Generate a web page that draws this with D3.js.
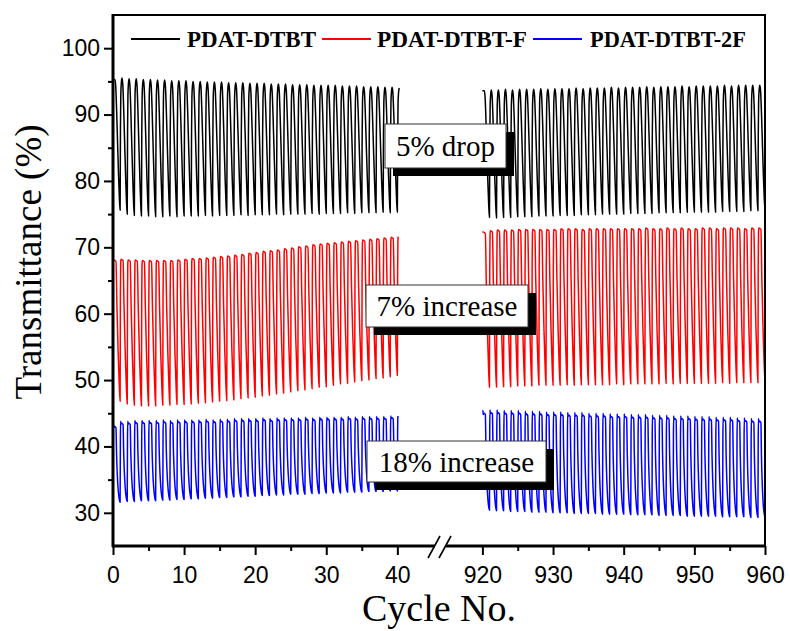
<!DOCTYPE html>
<html>
<head>
<meta charset="utf-8">
<script src="https://cdn.jsdelivr.net/npm/d3@7/dist/d3.min.js"></script>
<style>
  html, body { margin: 0; padding: 0; background: #fff; }
  svg { display: block; }
</style>
</head>
<body>
<svg id="chart" width="790" height="631"></svg>
<script>
// ---- Series and axis data -------------------------------------------------
const seriesNames  = ["PDAT-DTBT", "PDAT-DTBT-F", "PDAT-DTBT-2F"];
const seriesColors = ["#000000", "#ff0000", "#0000ff"];

// cycle ranges shown on each side of the axis break
const leftStart  = 0;    // cycles 0..40
const rightStart = 920;  // cycles 920..960

const xTicksLeft  = [0, 10, 20, 30, 40];
const xTicksRight = [920, 930, 940, 950, 960];
const xMinorLeft  = [5, 15, 25, 35];
const xMinorRight = [925, 935, 945, 955];
const yTicks      = [30, 40, 50, 60, 70, 80, 90, 100];
const yMinor      = [35, 45, 55, 65, 75, 85, 95];

// bleached (peak) and coloured (trough) transmittance of each cycle, %
const blackPeaksLeft = [95.3,95.5,95.4,95.4,95.3,95.3,95.2,95.2,95.1,95.1,
  95.1,95.0,95.0,94.9,94.9,94.9,94.8,94.8,94.8,94.7,
  94.7,94.7,94.6,94.6,94.6,94.5,94.5,94.5,94.4,94.4,
  94.4,94.4,94.3,94.3,94.3,94.2,94.2,94.2,94.1,94.1, 94.0];
const blackTroughsLeft = [75.6,75.0,74.8,74.7,74.7,74.6,74.6,74.7,74.6,74.7,
  74.7,74.7,74.8,74.7,74.8,74.8,74.8,74.9,74.8,74.9,
  74.9,74.9,75.0,74.9,75.0,75.0,75.0,75.1,75.0,75.1,
  75.1,75.1,75.2,75.1,75.2,75.2,75.2,75.3,75.2,75.3];
const blackPeaksRight = [93.6,93.7,93.7,93.8,93.7,93.8,93.8,93.8,93.9,93.8,
  93.9,93.9,93.9,94.0,93.9,94.0,94.0,94.0,94.1,94.0,
  94.1,94.1,94.1,94.2,94.1,94.2,94.2,94.2,94.3,94.2,
  94.3,94.3,94.3,94.3,94.4,94.3,94.4,94.4,94.4,94.4];
const blackTroughsRight = [74.5,74.4,74.5,74.5,74.6,74.6,74.6,74.7,74.7,74.7,
  74.8,74.8,74.8,74.9,74.9,74.9,75.0,75.0,75.0,75.0,
  75.1,75.1,75.1,75.1,75.2,75.2,75.2,75.2,75.3,75.3,
  75.3,75.3,75.3,75.4,75.4,75.4,75.4,75.5,75.5,75.6];

const redPeaksLeft = [68.1,68.2,68.1,68.1,68.0,68.0,68.0,68.0,68.0,68.1,
  68.2,68.3,68.3,68.4,68.5,68.6,68.7,68.8,68.9,69.1,
  69.2,69.4,69.5,69.6,69.8,69.9,70.1,70.2,70.4,70.5,
  70.6,70.7,70.8,70.9,71.0,71.1,71.2,71.3,71.4,71.5, 71.6];
const redTroughsLeft = [46.8,46.4,46.2,46.1,46.1,46.1,46.2,46.2,46.3,46.3,
  46.4,46.5,46.6,46.7,46.8,46.9,47.0,47.2,47.3,47.4,
  47.6,47.7,47.9,48.0,48.2,48.4,48.5,48.7,48.9,49.0,
  49.2,49.4,49.5,49.7,49.9,50.0,50.2,50.3,50.5,50.7];
const redPeaksRight = [72.3,72.5,72.6,72.6,72.6,72.7,72.7,72.7,72.7,72.7,
  72.7,72.8,72.8,72.8,72.7,72.8,72.8,72.8,72.8,72.8,
  72.8,72.8,72.8,72.9,72.8,72.8,72.9,72.8,72.9,72.8,
  72.8,72.9,72.9,72.8,72.9,72.9,72.9,72.8,72.9,72.9];
const redTroughsRight = [48.9,48.9,49.0,49.0,49.1,49.1,49.1,49.2,49.2,49.2,
  49.2,49.3,49.2,49.3,49.3,49.3,49.3,49.3,49.4,49.3,
  49.4,49.4,49.4,49.4,49.4,49.5,49.4,49.5,49.5,49.5,
  49.5,49.5,49.5,49.6,49.5,49.6,49.6,49.6,49.6,49.6];

const bluePeaksLeft = [43.3,43.8,43.8,43.9,43.9,43.9,43.9,44.0,43.9,44.0,
  44.0,44.0,44.0,44.1,44.0,44.1,44.1,44.2,44.2,44.2,
  44.2,44.3,44.2,44.3,44.3,44.3,44.3,44.4,44.3,44.4,
  44.4,44.4,44.4,44.5,44.4,44.5,44.5,44.5,44.5,44.6, 44.6];
const blueTroughsLeft = [31.6,31.7,31.7,31.8,31.8,31.8,31.9,31.9,32.0,32.0,
  32.1,32.1,32.2,32.2,32.3,32.3,32.4,32.4,32.5,32.5,
  32.6,32.6,32.7,32.7,32.8,32.8,32.8,32.9,32.9,33.0,
  33.0,33.0,33.1,33.1,33.1,33.2,33.2,33.2,33.3,33.3];
const bluePeaksRight = [45.4,45.5,45.5,45.4,45.4,45.4,45.3,45.3,45.3,45.2,
  45.2,45.2,45.1,45.1,45.1,45.0,45.0,45.0,44.9,44.9,
  44.9,44.8,44.8,44.8,44.7,44.7,44.7,44.6,44.6,44.6,
  44.5,44.5,44.5,44.4,44.4,44.4,44.3,44.3,44.2,44.2];
const blueTroughsRight = [30.4,30.3,30.3,30.2,30.2,30.2,30.1,30.1,30.1,30.0,
  30.0,30.0,29.9,29.9,29.9,29.9,29.8,29.8,29.8,29.8,
  29.7,29.7,29.7,29.7,29.6,29.6,29.6,29.6,29.5,29.5,
  29.5,29.5,29.5,29.4,29.4,29.4,29.4,29.3,29.3,29.3];

// switching shape inside one cycle: [phase, fraction of the swing]
// (first point with fraction 1 is the bleached peak)
const blackProfile = [[0,0],[0.05,0.62],[0.10,0.88],[0.18,0.97],[0.27,1.0],[0.38,0.95],
  [0.50,0.78],[0.64,0.52],[0.78,0.27],[0.90,0.09],[1.0,0]];
const redProfile = [[0,0],[0.04,0.75],[0.08,0.97],[0.12,1.0],[0.42,0.99],[0.55,0.68],
  [0.72,0.35],[0.88,0.12],[1.0,0]];
const blueProfile = [[0,0],[0.04,0.8],[0.08,1.0],[0.12,0.96],[0.2,0.975],[0.42,0.96],
  [0.5,0.62],[0.6,0.36],[0.72,0.17],[0.86,0.05],[1.0,0]];

const annotations = [
  { text: "5% drop",      x: 385, y: 124, w: 121, h: 44 },
  { text: "7% increase",  x: 366, y: 285, w: 162, h: 42 },
  { text: "18% increase", x: 367, y: 441, w: 179, h: 41 }
];

// ---- Layout ---------------------------------------------------------------
const plot = { left: 113, right: 765, top: 15, bottom: 546 };
const breakX = 440;

const xLeft  = d3.scaleLinear().domain([0, 46]).range([plot.left, breakX]);
const xRight = d3.scaleLinear().domain([914, 960]).range([breakX, plot.right]);
const y      = d3.scaleLinear().domain([25, 105]).range([plot.bottom, plot.top]);

const svg = d3.select("#chart");

// build the cycle-by-cycle trace of one segment
function buildTrace(start, peaks, troughs, profile) {
  const pts = [];
  const peakIdx = profile.findIndex(p => p[1] === 1);
  for (let k = 0; k < troughs.length; k++) {
    const P = peaks[k];
    const Tprev = k === 0 ? P : troughs[k - 1];
    const T = troughs[k];
    profile.forEach(([ph, f], i) => {
      if (k > 0 && i === 0) return; // shared with previous cycle end
      const base = i <= peakIdx ? Tprev : T;
      pts.push([start + k + ph, base + f * (P - base)]);
    });
  }
  // final rise when one more bleached peak is recorded
  if (peaks.length > troughs.length) {
    const P = peaks[troughs.length];
    const Tprev = troughs[troughs.length - 1];
    profile.slice(1, peakIdx + 1).forEach(([ph, f]) => {
      pts.push([start + troughs.length + ph, Tprev + f * (P - Tprev)]);
    });
  }
  return pts;
}

const seriesData = [
  { left: buildTrace(leftStart, blackPeaksLeft, blackTroughsLeft, blackProfile),
    right: buildTrace(rightStart, blackPeaksRight, blackTroughsRight, blackProfile) },
  { left: buildTrace(leftStart, redPeaksLeft, redTroughsLeft, redProfile),
    right: buildTrace(rightStart, redPeaksRight, redTroughsRight, redProfile) },
  { left: buildTrace(leftStart, bluePeaksLeft, blueTroughsLeft, blueProfile),
    right: buildTrace(rightStart, bluePeaksRight, blueTroughsRight, blueProfile) }
];

const lineL = d3.line().x(d => xLeft(d[0])).y(d => y(d[1])).curve(d3.curveMonotoneX);
const lineR = d3.line().x(d => xRight(d[0])).y(d => y(d[1])).curve(d3.curveMonotoneX);

const traces = svg.append("g").attr("fill", "none").attr("stroke-width", 1.5)
  .attr("stroke-linejoin", "round");
seriesData.forEach((s, i) => {
  traces.append("path").attr("d", lineL(s.left)).attr("stroke", seriesColors[i]);
  traces.append("path").attr("d", lineR(s.right)).attr("stroke", seriesColors[i]);
});

// ---- Axes -------------------------------------------------------------------
const tickFont = "'Liberation Sans', Arial, sans-serif";

svg.append("g").attr("transform", `translate(${plot.left},0)`)
  .call(d3.axisLeft(y).tickValues(yTicks).tickSize(9).tickPadding(4));
svg.append("g").attr("transform", `translate(${plot.left},0)`)
  .call(d3.axisLeft(y).tickValues(yMinor).tickSize(5).tickFormat(""));

svg.append("g").attr("transform", `translate(0,${plot.bottom})`)
  .call(d3.axisBottom(xLeft).tickValues(xTicksLeft).tickSize(9).tickPadding(12));
svg.append("g").attr("transform", `translate(0,${plot.bottom})`)
  .call(d3.axisBottom(xRight).tickValues(xTicksRight).tickSize(9).tickPadding(12));
svg.append("g").attr("transform", `translate(0,${plot.bottom})`)
  .call(d3.axisBottom(xLeft).tickValues(xMinorLeft).tickSize(5).tickFormat(""));
svg.append("g").attr("transform", `translate(0,${plot.bottom})`)
  .call(d3.axisBottom(xRight).tickValues(xMinorRight).tickSize(5).tickFormat(""));

svg.selectAll(".domain").remove();
svg.selectAll(".tick line").attr("stroke", "#000").attr("stroke-width", 2);
svg.selectAll(".tick text").attr("font-family", tickFont).attr("font-size", 23).attr("fill", "#000");

// plot frame
const frame = svg.append("g").attr("stroke", "#000").attr("fill", "none");
frame.append("rect")
  .attr("x", plot.left).attr("y", plot.top)
  .attr("width", plot.right - plot.left).attr("height", plot.bottom - plot.top)
  .attr("stroke-width", 2);
frame.append("line").attr("x1", plot.left).attr("x2", plot.left)
  .attr("y1", plot.top - 1).attr("y2", plot.bottom + 1).attr("stroke-width", 3);
frame.append("line").attr("x1", plot.left - 1).attr("x2", plot.right + 1)
  .attr("y1", plot.bottom).attr("y2", plot.bottom).attr("stroke-width", 3);

// axis break marks
svg.append("rect").attr("x", breakX - 5).attr("y", plot.bottom - 3)
  .attr("width", 11).attr("height", 6).attr("fill", "#fff");
[-6, 5].forEach(dx => {
  svg.append("line")
    .attr("x1", breakX + dx - 6).attr("y1", plot.bottom + 12)
    .attr("x2", breakX + dx + 6).attr("y2", plot.bottom - 10)
    .attr("stroke", "#000").attr("stroke-width", 1.6);
});

// axis titles
const serif = "'Liberation Serif', 'Times New Roman', serif";
svg.append("text")
  .attr("transform", "translate(41,262) rotate(-90)")
  .attr("text-anchor", "middle").attr("font-family", serif).attr("font-size", 37)
  .text("Transmittance (%)");
svg.append("text")
  .attr("x", (plot.left + plot.right) / 2).attr("y", 621)
  .attr("text-anchor", "middle").attr("font-family", serif).attr("font-size", 38)
  .text("Cycle No.");

// ---- Legend -------------------------------------------------------------------
const legendItems = [
  { x0: 131, x1: 180, tx: 187, tw: 129 },
  { x0: 322, x1: 371, tx: 377, tw: 150 },
  { x0: 533, x1: 582, tx: 590, tw: 156 }
];
const legend = svg.append("g");
legendItems.forEach((it, i) => {
  legend.append("line").attr("x1", it.x0).attr("x2", it.x1).attr("y1", 39).attr("y2", 39)
    .attr("stroke", seriesColors[i]).attr("stroke-width", 2);
  legend.append("text").attr("x", it.tx).attr("y", 47)
    .attr("font-family", serif).attr("font-weight", "bold").attr("font-size", 23)
    .attr("textLength", it.tw).attr("lengthAdjust", "spacingAndGlyphs")
    .text(seriesNames[i]);
});

// ---- Annotation boxes ---------------------------------------------------------
const notes = svg.append("g");
annotations.forEach(a => {
  notes.append("rect").attr("x", a.x + 8).attr("y", a.y + 8)
    .attr("width", a.w).attr("height", a.h).attr("fill", "#000");
  notes.append("rect").attr("x", a.x).attr("y", a.y)
    .attr("width", a.w).attr("height", a.h)
    .attr("fill", "#fff").attr("stroke", "#333").attr("stroke-width", 1);
  notes.append("text").attr("x", a.x + a.w / 2).attr("y", a.y + a.h / 2 + 10)
    .attr("text-anchor", "middle").attr("font-family", serif).attr("font-size", 29)
    .text(a.text);
});
</script>
</body>
</html>
